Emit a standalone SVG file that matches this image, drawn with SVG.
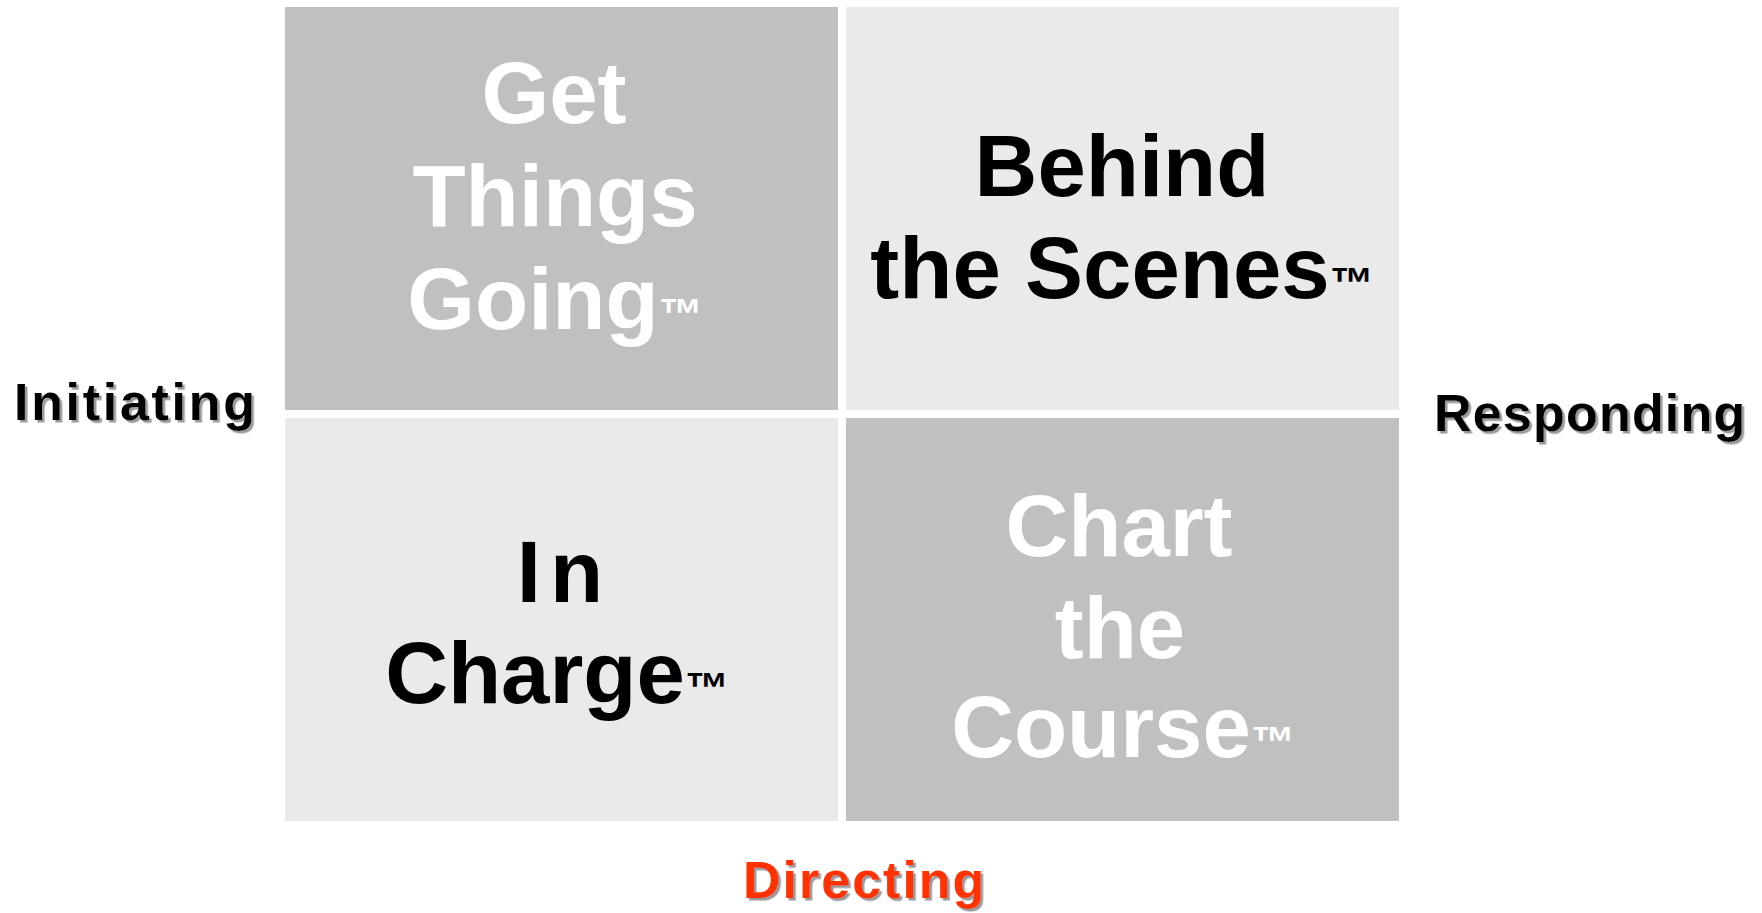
<svg xmlns="http://www.w3.org/2000/svg" width="1762" height="913" viewBox="0 0 1762 913">
  <style>
    .dark { fill: #C0C0C0; }
    .light { fill: #EAEAEA; }
    .q { font-family: "Liberation Sans", Arial, sans-serif; font-weight: bold; font-size: 87px; text-anchor: middle; }
    .qw { fill: #FFFFFF; }
    .qb { fill: #000000; }
    .tm { font-size: 44px; }
    .axis { font-family: "Liberation Sans", Arial, sans-serif; font-weight: bold; font-size: 52px; filter: url(#shadow); }
  </style>
  <defs>
    <filter id="shadow" x="-5%" y="-20%" width="115%" height="150%">
      <feDropShadow dx="2.5" dy="2.5" stdDeviation="0.6" flood-color="#9A9A9A" flood-opacity="1"/>
    </filter>
  </defs>
  <rect width="1762" height="913" fill="#FFFFFF"/>

  <g id="get-things-going">
    <rect class="dark" x="285" y="7" width="553" height="403"/>
    <text class="q qw" x="554" y="123">Get</text>
    <text class="q qw" x="555" y="226">Things</text>
    <text class="q qw" x="555" y="329">Going<tspan class="tm">™</tspan></text>
  </g>

  <g id="behind-the-scenes">
    <rect class="light" x="846" y="7" width="553" height="403"/>
    <text class="q qb" x="1122" y="196">Behind</text>
    <text class="q qb" x="1122" y="298">the Scenes<tspan class="tm">™</tspan></text>
  </g>

  <g id="in-charge">
    <rect class="light" x="285" y="418" width="553" height="403"/>
    <text class="q qb" x="560" y="602">I<tspan dx="9">n</tspan></text>
    <text class="q qb" x="557" y="703">Charge<tspan class="tm">™</tspan></text>
  </g>

  <g id="chart-the-course">
    <rect class="dark" x="846" y="418" width="553" height="403"/>
    <text class="q qw" x="1119" y="556">Chart</text>
    <text class="q qw" x="1120" y="658">the</text>
    <text class="q qw" x="1123" y="757">Course<tspan class="tm">™</tspan></text>
  </g>

  <g id="initiating">
    <text class="axis" x="14" y="420" fill="#000000" letter-spacing="2.7">Initiating</text>
  </g>
  <g id="responding">
    <text class="axis" x="1434" y="431" fill="#000000" letter-spacing="1.2">Responding</text>
  </g>
  <g id="directing">
    <text class="axis" x="743" y="898" fill="#FF3300" letter-spacing="2">Directing</text>
  </g>

  <g id="connectors"></g>
</svg>
